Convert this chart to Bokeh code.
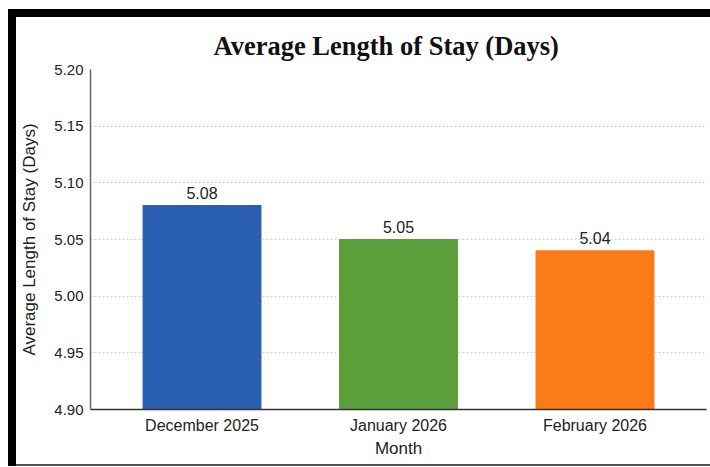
from bokeh.plotting import figure
from bokeh.models import ColumnDataSource, FactorRange, NumeralTickFormatter, Div
from bokeh.layouts import column, row
from bokeh.core.properties import value
from bokeh.embed import file_html
from bokeh.resources import INLINE

title_text = "Average Length of Stay (Days)"
months = ["December 2025", "January 2026", "February 2026"]
avg_stay = [5.08, 5.05, 5.04]
bar_colors = ["#2a5fb2", "#5a9f3a", "#fa7b17"]
labels = ["5.08", "5.05", "5.04"]
y_ticks = [4.90, 4.95, 5.00, 5.05, 5.10, 5.15, 5.20]

source = ColumnDataSource(dict(month=months, val=avg_stay, color=bar_colors, label=labels))

FW, FH = 694, 447
p = figure(
    x_range=FactorRange(*months, range_padding=0.045),
    y_range=(y_ticks[0], y_ticks[-1]),
    width=FW, height=FH,
    output_backend="svg", toolbar_location=None,
    min_border_left=74, min_border_right=4, min_border_top=52, min_border_bottom=55,
    title=title_text,
)

p.vbar(x="month", top="val", bottom=y_ticks[0], width=0.6, color="color", source=source)
p.text(x="month", y="val", text="label", source=source, text_align="center",
       text_baseline="bottom", y_offset=-7, text_font=value("Liberation Sans"),
       text_font_size="16px", text_color="#222222")

p.title.align = "left"
p.title.offset = 123
p.title.text_font = "Liberation Serif"
p.title.text_font_style = "bold"
p.title.text_font_size = "26.5px"
p.title.text_color = "#111111"
p.title.standoff = 17

p.yaxis.ticker = y_ticks
p.yaxis.formatter = NumeralTickFormatter(format="0.00")
for ax in (p.xaxis[0], p.yaxis[0]):
    ax.major_tick_line_color = None
    ax.minor_tick_line_color = None
    ax.major_tick_out = 0
    ax.major_tick_in = 0
    ax.minor_tick_out = 0
    ax.major_label_text_font = "Liberation Sans"
    ax.major_label_text_color = "#222222"
    ax.axis_label_text_font = "Liberation Sans"
    ax.axis_label_text_font_style = "normal"
    ax.axis_label_text_font_size = "17px"
    ax.axis_label_text_color = "#222222"
p.xaxis.major_label_standoff = 7
p.yaxis.major_label_standoff = 7
p.xaxis.major_label_text_font_size = "16px"
p.yaxis.major_label_text_font_size = "15px"
p.xaxis.axis_label = "Month"
p.yaxis.axis_label = "Average Length of Stay (Days)"
p.xaxis.axis_label_standoff = 2
p.yaxis.axis_label_standoff = 12
p.yaxis.axis_line_color = "#666666"
p.yaxis.axis_line_width = 1.5
p.xaxis.axis_line_color = "#333333"
p.xaxis.axis_line_width = 1.5

p.xgrid.grid_line_color = None
p.ygrid.grid_line_color = "#cccccc"
p.ygrid.grid_line_dash = "2 2"
p.ygrid.grid_line_width = 1
p.outline_line_color = None
p.background_fill_color = "white"
p.border_fill_color = "white"

# screenshot-style frame: white gap, black bands top/left, thin grey line at bottom
top_gap = Div(text="", width=710, height=9, margin=0)
left_gap = Div(text="", width=8, height=457, margin=0)
left_band = Div(text="", width=8, height=457, margin=0, styles={"background-color": "black"})
top_band = Div(text="", width=FW, height=8, margin=0, styles={"background-color": "black"})
bottom_line = Div(text="", width=FW, height=2, margin=0, styles={"background-color": "#555555"})

layout = column(top_gap,
                row(left_gap, left_band, column(top_band, p, bottom_line, spacing=0), spacing=0),
                spacing=0)

open("out.html", "w").write(file_html(layout, INLINE))
